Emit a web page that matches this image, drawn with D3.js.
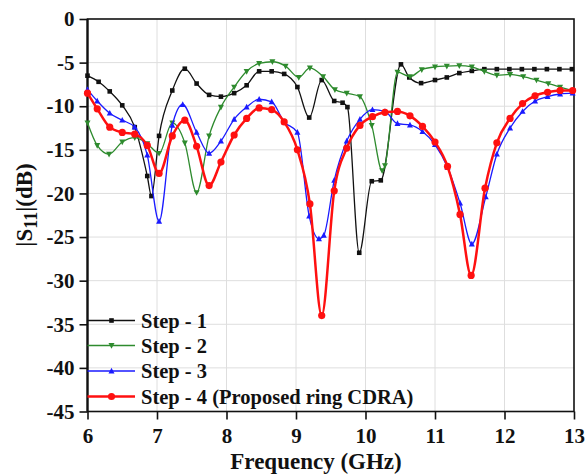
<!DOCTYPE html>
<html>
<head>
<meta charset="utf-8">
<script src="https://cdn.jsdelivr.net/npm/d3@7/dist/d3.min.js"></script>
<style>
  html, body { margin: 0; padding: 0; background: #fff; }
  svg { display: block; }
  text { font-family: "Liberation Serif", "Times New Roman", serif; font-weight: bold; fill: #111; }
</style>
</head>
<body>
<svg id="chart" width="587" height="474"></svg>
<script>
// Reflection coefficient |S11| of the four design steps, frequency in GHz, magnitude in dB
const step1Freq = [6.0, 6.16, 6.32, 6.5, 6.68, 6.86, 6.92, 7.03, 7.22, 7.4, 7.57, 7.75, 7.92, 8.11, 8.29, 8.47, 8.65, 8.83, 9.02, 9.19, 9.37, 9.55, 9.67, 9.74, 9.91, 10.09, 10.22, 10.51, 10.63, 10.8, 11.0, 11.17, 11.35, 11.53, 11.71, 11.89, 12.07, 12.25, 12.43, 12.61, 12.79, 12.97];
const step1dB   = [-6.5, -7.2, -8.3, -9.9, -12.4, -18.0, -20.3, -13.4, -8.2, -5.7, -7.4, -8.7, -8.9, -8.5, -7.6, -6.0, -6.0, -6.3, -7.8, -11.3, -7.0, -9.4, -9.6, -10.1, -26.8, -18.6, -18.5, -5.2, -6.7, -7.35, -7.0, -6.7, -6.2, -5.95, -5.75, -5.75, -5.75, -5.75, -5.75, -5.75, -5.75, -5.75];

const step2Freq = [6.0, 6.14, 6.31, 6.5, 6.68, 6.86, 7.03, 7.22, 7.4, 7.57, 7.75, 7.92, 8.11, 8.29, 8.47, 8.66, 8.85, 9.04, 9.2, 9.39, 9.56, 9.73, 9.92, 10.09, 10.24, 10.28, 10.46, 10.64, 10.81, 11.0, 11.17, 11.35, 11.53, 11.71, 11.89, 12.08, 12.27, 12.46, 12.63, 12.8, 12.98];
const step2dB   = [-11.9, -14.5, -15.5, -14.1, -13.6, -14.3, -15.4, -11.9, -14.2, -19.9, -13.4, -10.1, -7.8, -6.0, -5.1, -4.9, -5.4, -6.7, -5.6, -6.6, -8.1, -8.5, -8.9, -12.2, -17.4, -16.8, -6.1, -6.6, -5.8, -5.5, -5.4, -5.35, -5.5, -6.0, -6.45, -6.35, -6.6, -7.0, -7.4, -7.8, -8.2];

const step3Freq = [6.0, 6.14, 6.32, 6.5, 6.68, 6.86, 7.03, 7.22, 7.37, 7.57, 7.75, 7.92, 8.11, 8.29, 8.47, 8.65, 8.83, 9.02, 9.19, 9.33, 9.4, 9.55, 9.73, 9.92, 10.1, 10.28, 10.46, 10.64, 10.82, 11.0, 11.18, 11.36, 11.53, 11.73, 11.89, 12.08, 12.26, 12.44, 12.62, 12.8, 12.98];
const step3dB   = [-8.1, -9.4, -10.8, -11.6, -12.4, -15.6, -23.2, -12.2, -9.8, -13.0, -15.4, -14.0, -11.5, -10.1, -9.2, -9.5, -11.8, -13.0, -22.6, -25.2, -24.8, -18.5, -14.0, -11.5, -10.4, -10.6, -12.0, -12.15, -12.9, -14.4, -17.0, -21.1, -25.8, -20.4, -15.5, -12.5, -10.6, -9.4, -8.9, -8.6, -8.5];

const step4Freq = [6.0, 6.14, 6.32, 6.5, 6.68, 6.86, 7.03, 7.22, 7.4, 7.57, 7.75, 7.92, 8.11, 8.29, 8.47, 8.65, 8.83, 9.02, 9.2, 9.37, 9.55, 9.73, 9.92, 10.1, 10.28, 10.46, 10.64, 10.82, 11.0, 11.18, 11.36, 11.52, 11.72, 11.89, 12.08, 12.26, 12.44, 12.62, 12.8, 12.98];
const step4dB   = [-8.5, -10.3, -12.4, -13.0, -13.2, -14.5, -17.7, -13.4, -11.6, -14.6, -19.1, -16.4, -13.3, -11.4, -10.2, -10.4, -11.8, -15.0, -21.2, -34.0, -19.7, -14.8, -12.2, -11.2, -10.7, -10.6, -11.1, -12.3, -14.1, -16.9, -22.4, -29.4, -19.4, -14.2, -11.4, -9.7, -8.8, -8.4, -8.2, -8.2];

const seriesNames = ["Step - 1", "Step - 2", "Step - 3", "Step - 4 (Proposed ring CDRA)"];
const xTicks = [6, 7, 8, 9, 10, 11, 12, 13];
const yTicks = [0, -5, -10, -15, -20, -25, -30, -35, -40, -45];

const series = [
  { name: seriesNames[0], f: step1Freq, v: step1dB, color: "#111111", width: 1.3, marker: "square" },
  { name: seriesNames[1], f: step2Freq, v: step2dB, color: "#2e8b2e", width: 1.3, marker: "down" },
  { name: seriesNames[2], f: step3Freq, v: step3dB, color: "#1a1aff", width: 1.3, marker: "up" },
  { name: seriesNames[3], f: step4Freq, v: step4dB, color: "#ff1010", width: 2.5, marker: "circle" }
];

const svg = d3.select("#chart");
const plotLeft = 87.5, plotRight = 574, plotTop = 19, plotBottom = 411.5;

const x = d3.scaleLinear().domain([6, 13]).range([plotLeft, plotRight]);
const y = d3.scaleLinear().domain([0, -45]).range([plotTop, plotBottom]);

svg.append("rect").attr("width", 587).attr("height", 474).attr("fill", "#fff");

// grid
const grid = svg.append("g").attr("stroke", "#dedede").attr("stroke-width", 1);
xTicks.slice(1, -1).forEach(t => {
  grid.append("line").attr("x1", x(t)).attr("x2", x(t)).attr("y1", plotTop).attr("y2", plotBottom);
});
yTicks.slice(1, -1).forEach(t => {
  grid.append("line").attr("x1", plotLeft).attr("x2", plotRight).attr("y1", y(t)).attr("y2", y(t));
});

// axes (plain hyphen for negative labels)
const plainLabel = d => String(d);
const xAxis = d3.axisBottom(x).tickValues(xTicks).tickFormat(plainLabel).tickSize(8);
const yAxis = d3.axisLeft(y).tickValues(yTicks).tickFormat(plainLabel).tickSize(8).tickPadding(5);

const gx = svg.append("g").attr("transform", `translate(0,${plotBottom})`).call(xAxis);
const gy = svg.append("g").attr("transform", `translate(${plotLeft},0)`).call(yAxis);
[gx, gy].forEach(g => {
  g.select(".domain").remove();
  g.selectAll(".tick line").attr("stroke", "#111").attr("stroke-width", 1.6);
  g.selectAll(".tick text").attr("font-size", 21).attr("fill", "#111")
    .attr("font-family", "'Liberation Serif', 'Times New Roman', serif").attr("font-weight", "bold");
});
gx.selectAll(".tick text").attr("y", 31.5).attr("dy", 0);

// frame
svg.append("rect").attr("x", plotLeft).attr("y", plotTop).attr("width", plotRight - plotLeft).attr("height", plotBottom - plotTop)
  .attr("fill", "none").attr("stroke", "#111").attr("stroke-width", 1.6);
svg.append("line").attr("x1", plotLeft).attr("x2", plotLeft).attr("y1", plotTop).attr("y2", plotBottom)
  .attr("stroke", "#111").attr("stroke-width", 2.2);

// axis titles
svg.append("text").attr("x", 316).attr("y", 469).attr("text-anchor", "middle")
  .attr("font-size", 23).text("Frequency (GHz)");

const yTitle = svg.append("text").attr("transform", `translate(32,205) rotate(-90)`)
  .attr("text-anchor", "middle").attr("font-size", 23);
yTitle.append("tspan").text("|S");
yTitle.append("tspan").attr("font-size", 18).attr("dy", 5).text("11");
yTitle.append("tspan").attr("dy", -5).text("|(dB)");

// markers
function drawMarker(g, type, cx, cy, color) {
  if (type === "square") {
    g.append("rect").attr("x", cx - 2.3).attr("y", cy - 2.3).attr("width", 4.6).attr("height", 4.6).attr("fill", color);
  } else if (type === "circle") {
    g.append("circle").attr("cx", cx).attr("cy", cy).attr("r", 3.6).attr("fill", color);
  } else {
    const s = 3, d = type === "up" ? -1 : 1;
    g.append("path").attr("d", `M${cx - s},${cy - d * s * 0.8}L${cx + s},${cy - d * s * 0.8}L${cx},${cy + d * s * 1.1}Z`)
      .attr("fill", color);
  }
}

const line = d3.line().x(d => x(d[0])).y(d => y(d[1])).curve(d3.curveMonotoneX);
const plot = svg.append("g");
series.forEach(s => {
  const pts = s.f.map((f, i) => [f, s.v[i]]);
  const g = plot.append("g");
  g.append("path").attr("d", line(pts)).attr("fill", "none").attr("stroke", s.color)
    .attr("stroke-width", s.width).attr("stroke-linejoin", "round");
  pts.forEach(p => drawMarker(g, s.marker, x(p[0]), y(p[1]), s.color));
});

// legend
const legendY = [320.5, 345.5, 371, 396.5];
const legend = svg.append("g");
series.forEach((s, i) => {
  const ly = legendY[i];
  legend.append("line").attr("x1", plotLeft).attr("x2", 135).attr("y1", ly).attr("y2", ly)
    .attr("stroke", s.color).attr("stroke-width", s.width);
  drawMarker(legend, s.marker, 111.5, ly, s.color);
  legend.append("text").attr("x", 141).attr("y", ly + 7).attr("font-size", 20.5).text(s.name);
});
</script>
</body>
</html>
